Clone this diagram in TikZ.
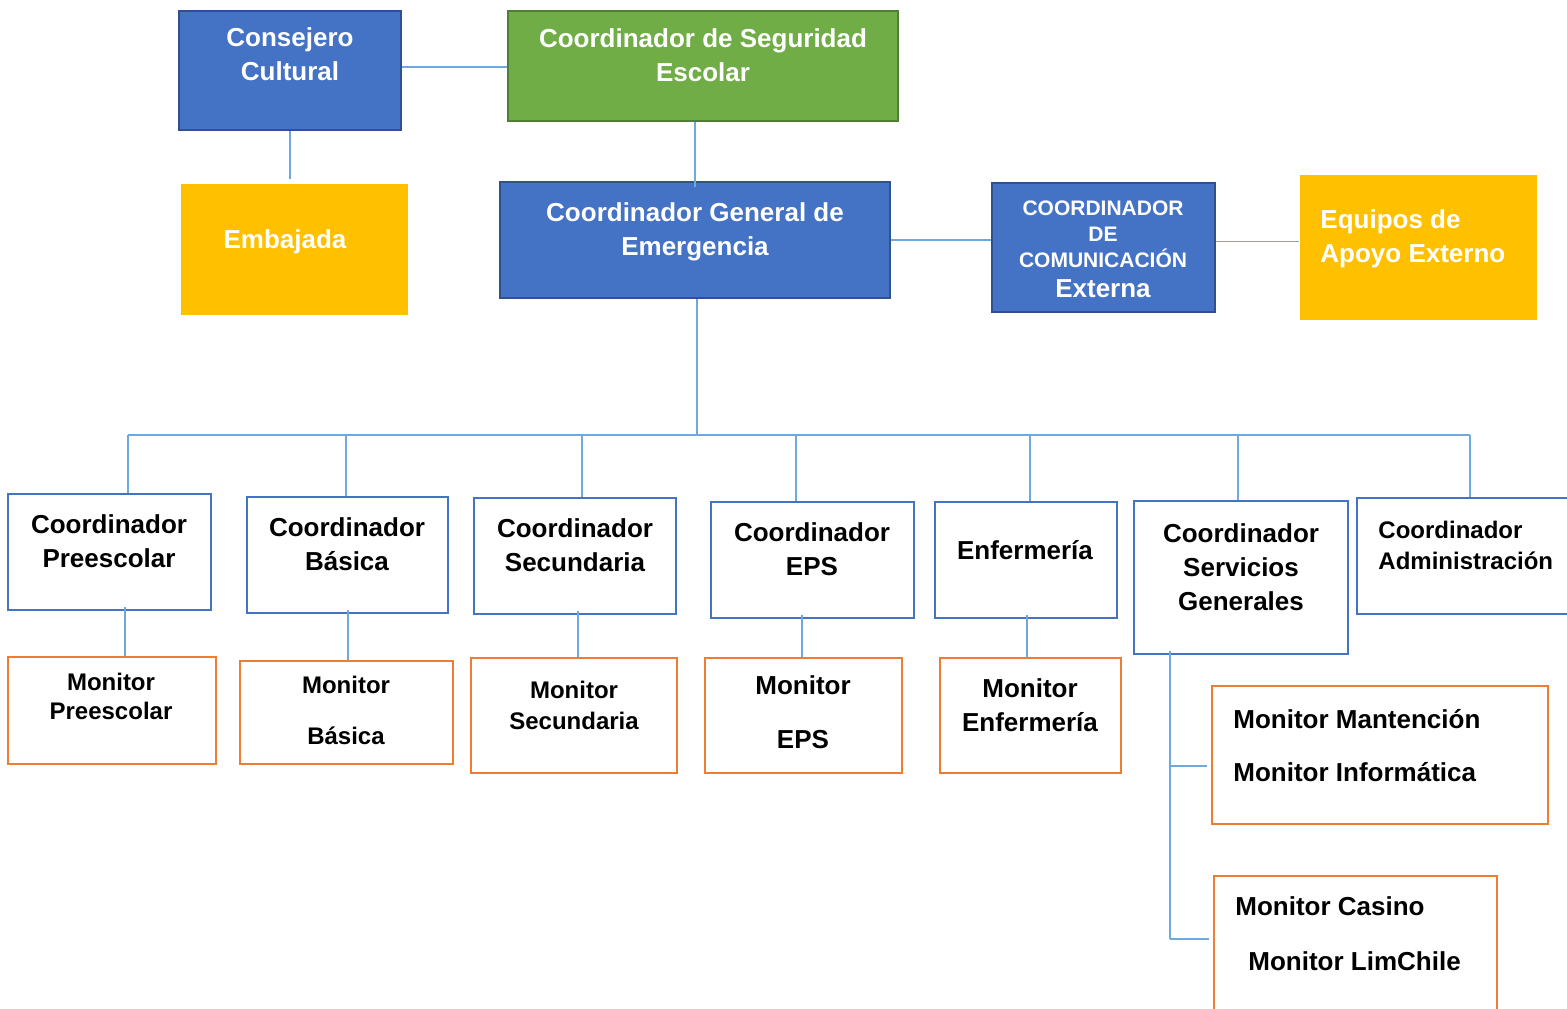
\documentclass[tikz,border=0pt]{standalone}
\usepackage{fontspec}
\setmainfont{Liberation Sans}

\definecolor{unitblue}{HTML}{4472C4}
\definecolor{unitedge}{HTML}{2F528F}
\definecolor{safegreen}{HTML}{70AD47}
\definecolor{safeedge}{HTML}{507E32}
\definecolor{helpgold}{HTML}{FFC000}
\definecolor{monitororange}{HTML}{ED7D31}
\definecolor{linkblue}{HTML}{6FA8DC}

\begin{document}
\begin{tikzpicture}[x=0.5pt, y=-0.5pt,
                    unit/.style={rectangle, inner sep=0pt, line width=1.2pt},
                    blueunit/.style={unit, fill=unitblue, draw=unitedge},
                    greenunit/.style={unit, fill=safegreen, draw=safeedge},
                    goldunit/.style={unit, fill=helpgold},
                    coordbox/.style={unit, draw=unitblue, fill=white, line width=1.4pt},
                    monitorbox/.style={unit, draw=monitororange, fill=white, line width=1.4pt},
                    whitetext/.style={inner sep=0pt, text=white, align=center,
                                      font=\bfseries\fontsize{13}{17}\selectfont},
                    blacktext/.style={inner sep=0pt, align=center,
                                      font=\bfseries\fontsize{13}{17}\selectfont},
                    link/.style={draw=linkblue, line width=0.7pt}]
  \useasboundingbox (0, 0) rectangle (1567, 1008);

  % Upper units.
  \node at (290, 70.5) [blueunit, minimum width=111pt, minimum height=59.5pt, name=ConsejeroCultural] {};
  \node at (703, 66) [greenunit, minimum width=195pt, minimum height=55pt, name=SeguridadEscolar] {};
  \node at (294.5, 249.5) [goldunit, minimum width=113.5pt, minimum height=65.5pt, name=Embajada] {};
  \node at (695, 240) [blueunit, minimum width=195pt, minimum height=58pt, name=GeneralEmergencia] {};
  \node at (1103.5, 247.5) [blueunit, minimum width=111.5pt, minimum height=64.5pt, name=ComunicacionExterna] {};
  \node at (1418.5, 247.5) [goldunit, minimum width=118.5pt, minimum height=72.5pt, name=ApoyoExterno] {};

  \node at (290, 54.5) [whitetext, name=ConsejeroCulturalText] {Consejero\\Cultural};
  \node at (703, 55.5) [whitetext, name=SeguridadEscolarText] {Coordinador de Seguridad\\Escolar};
  \node at (285, 242) [whitetext, name=EmbajadaText] {Embajada};
  \node at (695, 231.5) [whitetext, name=GeneralEmergenciaText] {Coordinador General de\\Emergencia};
  \node at (1103, 249) [whitetext, font=\bfseries\fontsize{10.5}{13}\selectfont,
                        name=ComunicacionExternaText]
        {COORDINADOR\\DE\\COMUNICACIÓN\\[2pt]{\fontsize{13}{15}\selectfont Externa}};
  \node at (1320, 239) [whitetext, anchor=west, align=left, name=ApoyoExternoText] {Equipos de\\Apoyo Externo};

  % Coordinators.
  \node at (109.5, 552) [coordbox, minimum width=101.5pt, minimum height=58pt, name=CoordPreescolar] {};
  \node at (347.5, 555) [coordbox, minimum width=100.5pt, minimum height=58pt, name=CoordBasica] {};
  \node at (575, 556) [coordbox, minimum width=101pt, minimum height=58pt, name=CoordSecundaria] {};
  \node at (812.5, 560) [coordbox, minimum width=101.5pt, minimum height=58pt, name=CoordEPS] {};
  \node at (1026, 560) [coordbox, minimum width=91pt, minimum height=58pt, name=Enfermeria] {};
  \node at (1241, 577.5) [coordbox, minimum width=107pt, minimum height=76.5pt, name=CoordServicios] {};
  \node at (1466, 556) [coordbox, minimum width=109pt, minimum height=58pt, name=CoordAdministracion] {};

  \node at (109, 541) [blacktext, name=CoordPreescolarText] {Coordinador\\Preescolar};
  \node at (347, 544) [blacktext, name=CoordBasicaText] {Coordinador\\Básica};
  \node at (575, 545) [blacktext, name=CoordSecundariaText] {Coordinador\\Secundaria};
  \node at (812, 549) [blacktext, name=CoordEPSText] {Coordinador\\EPS};
  \node at (1025, 550) [blacktext, name=EnfermeriaText] {Enfermería};
  \node at (1241, 567) [blacktext, name=CoordServiciosText] {Coordinador\\Servicios\\Generales};
  \node at (1378, 545.5) [blacktext, anchor=west, align=left, font=\bfseries\fontsize{12}{15.5}\selectfont,
                          name=CoordAdministracionText] {Coordinador\\Administración};

  % Monitors.
  \node at (112, 710.5) [monitorbox, minimum width=104pt, minimum height=53.5pt, name=MonitorPreescolar] {};
  \node at (346.5, 712.5) [monitorbox, minimum width=106.5pt, minimum height=51.5pt, name=MonitorBasica] {};
  \node at (574, 715.5) [monitorbox, minimum width=103pt, minimum height=57.5pt, name=MonitorSecundaria] {};
  \node at (803.5, 715.5) [monitorbox, minimum width=98.5pt, minimum height=57.5pt, name=MonitorEPS] {};
  \node at (1030.5, 715.5) [monitorbox, minimum width=90.5pt, minimum height=57.5pt, name=MonitorEnfermeria] {};
  \node at (1380, 755) [monitorbox, minimum width=168pt, minimum height=69pt, name=MonitorMantencion] {};
  \node at (1355.5, 945.5) [monitorbox, minimum width=141.5pt, minimum height=69.5pt, name=MonitorCasino] {};

  \node at (111, 696.5) [blacktext, font=\bfseries\fontsize{12}{14.5}\selectfont,
                         name=MonitorPreescolarText] {Monitor\\Preescolar};
  \node at (346, 710.5) [blacktext, font=\bfseries\fontsize{12}{25.5}\selectfont,
                         name=MonitorBasicaText] {Monitor\\Básica};
  \node at (574, 705.5) [blacktext, font=\bfseries\fontsize{12}{15.5}\selectfont,
                         name=MonitorSecundariaText] {Monitor\\Secundaria};
  \node at (803, 712) [blacktext, font=\bfseries\fontsize{13}{27}\selectfont,
                       name=MonitorEPSText] {Monitor\\EPS};
  \node at (1030, 705) [blacktext, name=MonitorEnfermeriaText] {Monitor\\Enfermería};
  \node at (1233, 745.5) [blacktext, anchor=west, align=left, font=\bfseries\fontsize{13}{26.5}\selectfont,
                          name=MonitorMantencionText] {Monitor Mantención\\Monitor Informática};
  \node at (1235, 933.5) [blacktext, anchor=west, align=left, font=\bfseries\fontsize{13}{27.5}\selectfont,
                          name=MonitorCasinoText] {Monitor Casino\\\hspace*{6.5pt}Monitor LimChile};

  % Bus and branch points.
  \coordinate (BusLeft) at (128, 435);
  \coordinate (BusRight) at (1470, 435);
  \coordinate (ServiciosBranchA) at (1170, 766);
  \coordinate (ServiciosBranchB) at (1170, 939);

  % Upper links.
  \draw [link] ([yshift=1.75pt]ConsejeroCultural.east) -- ([yshift=1.75pt]ConsejeroCultural.east -| SeguridadEscolar.west);
  \draw [link, shorten >=2pt] (ConsejeroCultural.south) -- (ConsejeroCultural.south |- Embajada.north);
  \draw [link] (GeneralEmergencia.north |- SeguridadEscolar.south) -- ([yshift=-3pt]GeneralEmergencia.north);
  \draw [link] (GeneralEmergencia.east) -- (GeneralEmergencia.east -| ComunicacionExterna.west);
  \draw [link] ([yshift=3pt]ComunicacionExterna.east) -- ([yshift=3pt]ComunicacionExterna.east -| ApoyoExterno.west);

  % Bus down to the coordinators.
  \draw [link] ([xshift=1pt]GeneralEmergencia.south) -- ([xshift=1pt]GeneralEmergencia.south |- BusLeft);
  \draw [link] (BusLeft) -- (BusRight);
  \foreach \x/\unit in {128/CoordPreescolar, 346/CoordBasica, 582/CoordSecundaria, 796/CoordEPS,
                        1030/Enfermeria, 1238/CoordServicios, 1470/CoordAdministracion}
    \draw [link] (BusLeft -| \x, 0) -- (\unit.north -| \x, 0);

  % Coordinators to monitors.
  \foreach \x/\unit/\monitor in {125/CoordPreescolar/MonitorPreescolar, 348/CoordBasica/MonitorBasica,
                                 578/CoordSecundaria/MonitorSecundaria, 802/CoordEPS/MonitorEPS,
                                 1027/Enfermeria/MonitorEnfermeria}
    \draw [link] ([yshift=2pt]\unit.south -| \x, 0) -- (\monitor.north -| \x, 0);
  \draw [link] ([yshift=2pt]CoordServicios.south -| ServiciosBranchA) -- (ServiciosBranchB);
  \draw [link, shorten >=2pt] (ServiciosBranchA) -- (ServiciosBranchA -| MonitorMantencion.west);
  \draw [link, shorten >=2pt] (ServiciosBranchB) -- (ServiciosBranchB -| MonitorCasino.west);
\end{tikzpicture}
\end{document}
